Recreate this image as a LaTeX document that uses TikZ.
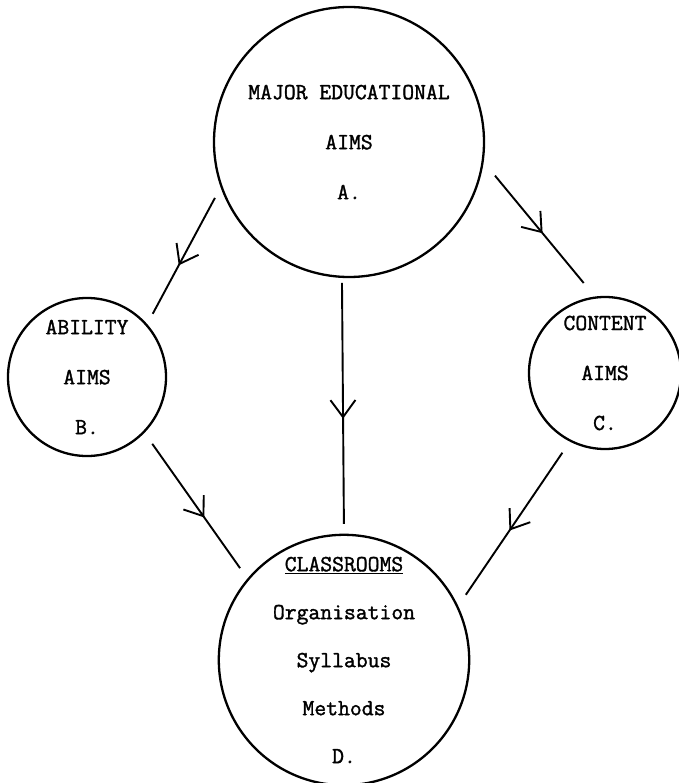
\documentclass[tikz,border=0pt]{standalone}
\usepackage{fontspec}
\newfontfamily\typewriter{Latin Modern Mono}[FakeBold=1.5]
\usetikzlibrary{arrows.meta,decorations.markings}

\begin{document}
\begin{tikzpicture}[x=1pt,y=-1pt,line width=1.9pt,
  mid arrow/.style={postaction={decorate},decoration={markings,
    mark=at position #1 with {\arrow{Straight Barb[length=17pt,width=25pt,line width=1.9pt]}}}}]
  \tikzstyle{aim}=[circle,draw,line width=2.3pt,inner sep=0pt,outer sep=0pt,align=center,
    font=\typewriter\fontsize{23}{50}\selectfont]

  \useasboundingbox (0,0) rectangle (678,783);

  \node[aim,minimum size=270pt] (A) at (349,142) {MAJOR EDUCATIONAL\\AIMS\\A.};
  \node[aim,minimum size=158pt] (B) at (87,377)  {ABILITY\\AIMS\\B.};
  \node[aim,minimum size=152pt] (C) at (605,373) {CONTENT\\AIMS\\C.};
  \node[aim,minimum size=242pt,font=\typewriter\fontsize{23}{48}\selectfont] (D) at (344,660)
    {\underline{CLASSROOMS}\\Organisation\\Syllabus\\Methods\\D.};

  \draw[mid arrow=0.57,shorten <=13.6pt,shorten >=12.9pt] (A.199) -- (B.41.7);
  \draw[mid arrow=0.53,shorten <=19.3pt,shorten >=18.9pt] (A.352.3) -- (C.97.6);
  \draw[mid arrow=0.55,shorten <=6pt,shorten >=11pt] (A.267.5) -- (D.90.5);
  \draw[mid arrow=0.58,shorten <=14.6pt,shorten >=13.9pt] (B.316.9) -- (D.140.5);
  \draw[mid arrow=0.54,shorten <=14.5pt,shorten >=14.9pt] (C.243.7) -- (D.25.1);
\end{tikzpicture}
\end{document}
